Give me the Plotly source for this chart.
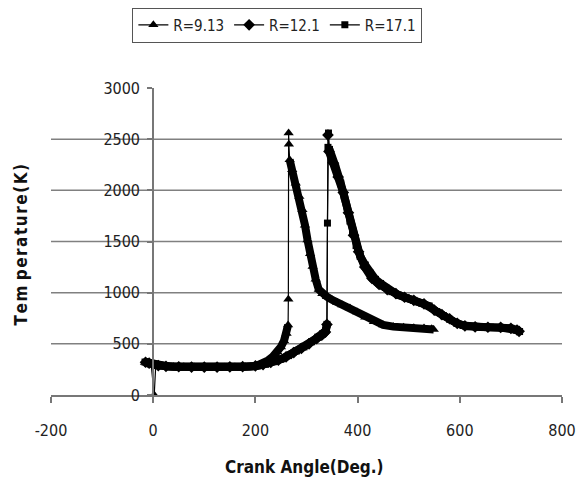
import plotly.graph_objects as go

# ---- data ----
x_r913 = [-16, -10, -4, 2, 5, 12, 25, 40, 60, 80, 100, 120, 140, 160, 180, 200, 212, 224, 234, 243,
          250, 256, 261, 264, 264.5, 265, 265.5, 267, 272, 279, 286, 292, 297, 302, 307, 312, 318, 324,
          331, 340, 350, 360, 370, 385, 399, 415, 432, 450, 470, 490, 510, 530, 545, 549]
y_r913 = [318, 312, 300, 0, 292, 285, 280, 277, 275, 273, 272, 272, 272, 273, 276, 282, 300, 335, 375, 420,
          470, 530, 600, 684, 935, 2560, 2450, 2300, 2200, 2070, 1940, 1810, 1660, 1515, 1380, 1255, 1130, 1030,
          990, 960, 930, 905, 880, 850, 810, 760, 715, 685, 668, 662, 658, 655, 648, 640]

x_r121 = [-15, -8, 0, 10, 25, 50, 75, 100, 125, 150, 175, 200, 215, 230, 245, 260, 275, 290, 305, 320,
          330, 337, 340, 342, 344, 352, 362, 372, 382, 392, 402, 414, 428, 442, 458, 475, 492, 510, 530, 550,
          565, 580, 595, 610, 630, 655, 680, 700, 712, 716]
y_r121 = [320, 312, 298, 287, 280, 276, 273, 272, 272, 274, 277, 284, 297, 318, 340, 372, 415, 455, 500, 550,
          585, 615, 690, 2540, 2380, 2270, 2130, 1980, 1780, 1560, 1400, 1250, 1140, 1080, 1030, 990, 955, 925, 890, 830,
          785, 745, 700, 675, 665, 662, 660, 652, 635, 622]

x_r171 = [-16, -10, -4, 3, 8, 15, 30, 50, 70, 90, 110, 130, 150, 170, 190, 205, 220, 235, 250, 265,
          280, 295, 310, 322, 332, 338, 340, 341, 342, 343, 345, 350, 357, 367, 374, 380, 385, 390, 397, 405,
          415, 425, 435, 445, 455, 467, 480, 495, 510, 525, 540, 555, 568, 580, 594, 607, 620, 640, 660, 685,
          700, 711, 717]
y_r171 = [322, 315, 305, 295, 288, 283, 279, 276, 274, 273, 272, 272, 273, 275, 279, 285, 300, 325, 350, 385,
          430, 470, 520, 565, 600, 630, 690, 1680, 2420, 2560, 2400, 2300, 2230, 2070, 1940, 1810, 1700, 1590, 1460, 1355,
          1270, 1190, 1130, 1090, 1050, 1010, 975, 950, 925, 900, 870, 815, 775, 740, 700, 680, 668, 664, 662, 660,
          652, 635, 620]

series_names = ["R=9.13", "R=12.1", "R=17.1"]
series_symbols = ["triangle-up", "diamond", "square"]

x_ticks = [-200, 0, 200, 400, 600, 800]
x_tick_text = ["-200", "0", "200", "400", "600", "800"]
y_ticks = [0, 500, 1000, 1500, 2000, 2500, 3000]
y_tick_text = ["0", "500", "1000", "1500", "2000", "2500", "3000"]
grid_vals = [500, 1000, 1500, 2000, 2500]

FONT = "DejaVu Sans Condensed, Liberation Sans Narrow, Arial Narrow, Liberation Sans, sans-serif"


def body(xs, ys, thresh=40):
    """Break the dense trace wherever it jumps steeply (thin spike segments)."""
    bx, by = [xs[0]], [ys[0]]
    for i in range(1, len(xs)):
        dx = max(abs(xs[i] - xs[i - 1]), 0.1)
        if abs(ys[i] - ys[i - 1]) / dx > thresh:
            bx.append(None)
            by.append(None)
        bx.append(xs[i])
        by.append(ys[i])
    return bx, by


fig = go.Figure()
all_series = [(x_r913, y_r913), (x_r121, y_r121), (x_r171, y_r171)]

for (xs, ys) in all_series:
    bx, by = body(xs, ys)
    fig.add_trace(go.Scatter(x=bx, y=by, mode="lines", showlegend=False, hoverinfo="skip",
                             line=dict(color="black", width=8), connectgaps=False))

for (xs, ys), name, sym in zip(all_series, series_names, series_symbols):
    size = {"triangle-up": 9, "diamond": 9, "square": 7}[sym]
    fig.add_trace(go.Scatter(x=xs, y=ys, mode="lines+markers", name=name,
                             line=dict(color="black", width=1.2),
                             marker=dict(symbol=sym, size=size, color="black")))

for g in grid_vals:
    fig.add_shape(type="line", xref="paper", x0=0, x1=1, yref="y", y0=g, y1=g,
                  line=dict(color="#808080", width=1.5), layer="below")

HS = "\u200a"
ytitle = HS.join("Tem") + " " + HS.join("perature(K)")

fig.update_layout(
    width=576, height=483,
    margin=dict(l=51, r=14, t=88, b=88, autoexpand=False),
    paper_bgcolor="white", plot_bgcolor="white",
    font=dict(family=FONT, size=16, color="#222"),
    showlegend=True,
    legend=dict(orientation="h", x=0.443, xanchor="center", y=1.262, yanchor="top",
                bordercolor="#555", borderwidth=1, bgcolor="white",
                font=dict(family=FONT, size=15, color="#222"),
                itemwidth=30, tracegroupgap=0),
    xaxis=dict(range=[-200, 800], tickvals=x_ticks, ticktext=x_tick_text, showgrid=False, zeroline=False,
               automargin=False, ticklabeloverflow="allow",
               showline=True, linecolor="#777", linewidth=2,
               ticks="outside", ticklen=6, tickwidth=2, tickcolor="#777",
               ticklabelstandoff=14, tickfont=dict(family=FONT, size=16, color="#222")),
    yaxis=dict(range=[0, 3000], tickvals=y_ticks, ticktext=y_tick_text, showgrid=False, zeroline=False,
               anchor="free", position=0.2, automargin=False,
               showline=True, linecolor="#777", linewidth=2,
               ticks="outside", ticklen=5, tickwidth=2, tickcolor="#777",
               ticklabelstandoff=4, tickfont=dict(family=FONT, size=16, color="#222")),
    annotations=[
        dict(text="<b>Crank Angle(Deg.)</b>", xref="paper", yref="paper", x=0.497, y=-0.236,
             xanchor="center", yanchor="middle", showarrow=False,
             font=dict(family=FONT, size=17, color="#111")),
        dict(text="<b>" + ytitle + "</b>", xref="paper", yref="paper", x=-0.059, y=0.49,
             xanchor="center", yanchor="middle", showarrow=False, textangle=-90,
             font=dict(family=FONT, size=17, color="#111")),
    ],
)

fig.write_html("out.html", config={"displayModeBar": False},
               post_script="document.body.style.margin='0';document.body.style.padding='0';")
